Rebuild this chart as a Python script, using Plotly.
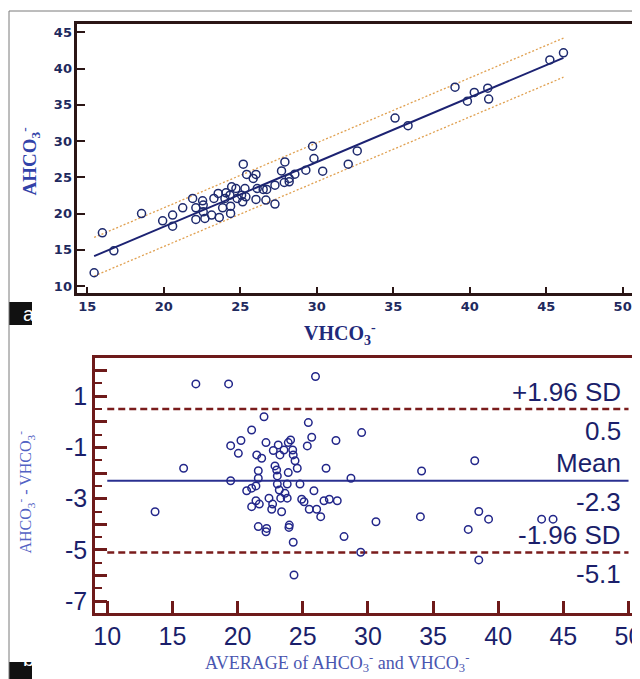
import plotly.graph_objects as go

# ---------------- Panel a: AHCO3 vs VHCO3 ----------------
top_v = [15.45, 15.99, 16.74, 18.55, 19.93, 20.58, 20.58, 21.24, 21.89, 22.10, 22.10, 22.54,
         22.58, 22.58, 22.69, 23.13, 23.28, 23.63, 23.56, 23.85, 24.00, 24.07, 24.37, 24.37,
         24.44, 24.33, 24.72, 24.80, 25.09, 25.16, 25.20, 25.31, 25.37, 25.42, 25.85, 26.03,
         26.03, 26.11, 26.50, 26.68, 26.73, 27.27, 27.27, 27.70, 27.92, 27.88, 28.20, 28.20,
         28.57, 29.29, 29.73, 29.82, 30.39, 32.06, 32.65, 35.12, 35.97, 39.04, 39.85, 40.30,
         41.18, 41.24, 45.24, 46.13]
top_a = [11.83, 17.34, 14.86, 20.00, 19.00, 19.78, 18.26, 20.79, 22.08, 20.79, 19.18, 21.75,
         21.16, 20.24, 19.32, 19.78, 22.08, 19.46, 22.77, 20.79, 22.08, 22.85, 21.02, 20.01,
         23.68, 22.53, 23.45, 22.08, 22.53, 21.61, 26.80, 23.45, 22.30, 25.39, 24.84, 25.39,
         21.94, 23.45, 23.32, 21.85, 23.32, 21.30, 23.91, 25.88, 27.12, 24.28, 24.84, 24.37,
         25.43, 25.98, 29.28, 27.59, 25.84, 26.80, 28.64, 33.17, 32.11, 37.43, 35.50, 36.70,
         37.29, 35.78, 41.19, 42.16]

fit_x = [15.45, 46.13]
fit_y = [14.13, 41.47]
band_upper_y = [16.70, 44.20]
band_lower_y = [11.38, 38.80]

top_x_ticks = [15, 20, 25, 30, 35, 40, 45, 50]
top_y_ticks = [10, 15, 20, 25, 30, 35, 40, 45]

# ---------------- Panel b: Bland-Altman ----------------
ba_avg = [16.80, 19.31, 25.98, 15.86, 13.67, 34.12, 34.03, 38.20, 37.70, 38.51, 39.26, 38.51,
          43.33, 44.21,
          22.03, 25.43, 21.08, 29.52, 19.47, 20.26, 20.06, 22.18, 23.12, 22.74, 23.25, 23.56,
          23.89, 24.07, 24.23, 24.27, 24.41, 24.58, 25.35, 25.69, 27.55, 21.47, 21.85, 22.87,
          23.00, 21.59, 21.59, 23.05, 23.89, 19.47, 26.79, 28.70, 21.41, 21.08, 20.70, 23.05,
          23.81, 24.79, 23.20, 23.64, 23.31, 23.81, 22.41, 22.69, 22.62, 23.38, 21.41, 21.67,
          21.08, 24.92, 25.10, 25.86, 26.63, 27.04, 27.65, 25.50, 26.07, 26.38, 30.62, 21.59,
          22.23, 22.18, 23.97, 23.94, 28.17, 24.27, 29.45, 24.33]
ba_diff = [1.48, 1.48, 1.77, -1.81, -3.51, -1.92, -3.70, -1.52, -4.20, -3.50, -3.80, -5.39,
           -3.80, -3.80,
           0.20, -0.03, -0.32, -0.42, -0.93, -0.73, -1.23, -0.81, -0.90, -1.12, -1.29, -1.10,
           -0.81, -0.71, -1.10, -1.29, -1.52, -1.81, -0.94, -0.60, -0.73, -1.29, -1.42, -1.72,
           -1.88, -1.91, -2.20, -2.11, -1.98, -2.30, -1.81, -2.20, -2.50, -2.59, -2.69, -2.43,
           -2.43, -2.43, -2.66, -2.79, -2.98, -2.98, -2.98, -3.21, -3.41, -3.51, -3.08, -3.21,
           -3.31, -3.02, -3.12, -2.69, -3.08, -3.02, -3.08, -3.41, -3.41, -3.70, -3.90, -4.09,
           -4.16, -4.29, -4.03, -4.12, -4.48, -4.70, -5.09, -5.98]

mean_diff = -2.3
upper_loa = 0.5
lower_loa = -5.1
line_x = [10, 50]

ba_x_ticks = [10, 15, 20, 25, 30, 35, 40, 45, 50]
ba_y_ticks = [-7, -5, -3, -1, 1]
ba_y_labels = ["-7", "-5", "-3", "-1", "1"]
ba_y_even_ticks = [-6, -4, -2, 0, 2]

# The page body has an 8px margin: size the figure to fit the window and
# express positions in window pixels.
OFF = 8
W, H = 640 - OFF, 679 - OFF
def px(x):
    return (x - OFF) / W
def py(y):
    return 1 - (y - OFF) / H

TOPFRAME = "#2b1616"
BOTFRAME = "#6e1a1a"

fig = go.Figure()

# panel a traces
fig.add_trace(go.Scatter(x=fit_x, y=band_upper_y, mode="lines",
                         line=dict(color="#e0a050", width=1.3, dash="2px,2px"),
                         xaxis="x", yaxis="y", showlegend=False, hoverinfo="skip"))
fig.add_trace(go.Scatter(x=fit_x, y=band_lower_y, mode="lines",
                         line=dict(color="#e0a050", width=1.3, dash="2px,2px"),
                         xaxis="x", yaxis="y", showlegend=False, hoverinfo="skip"))
fig.add_trace(go.Scatter(x=fit_x, y=fit_y, mode="lines",
                         line=dict(color="#1c2272", width=2),
                         xaxis="x", yaxis="y", showlegend=False))
fig.add_trace(go.Scatter(x=top_v, y=top_a, mode="markers",
                         marker=dict(symbol="circle-open", size=8, color="#1e2a6e",
                                     line=dict(width=1.5, color="#1e2a6e")),
                         xaxis="x", yaxis="y", showlegend=False))

# panel b traces
fig.add_trace(go.Scatter(x=line_x, y=[upper_loa, upper_loa], mode="lines",
                         line=dict(color="#7a1c1c", width=2.5, dash="7px,4px"),
                         xaxis="x2", yaxis="y2", showlegend=False))
fig.add_trace(go.Scatter(x=line_x, y=[lower_loa, lower_loa], mode="lines",
                         line=dict(color="#7a1c1c", width=2.5, dash="7px,4px"),
                         xaxis="x2", yaxis="y2", showlegend=False))
fig.add_trace(go.Scatter(x=line_x, y=[mean_diff, mean_diff], mode="lines",
                         line=dict(color="#2a3090", width=2),
                         xaxis="x2", yaxis="y2", showlegend=False))
fig.add_trace(go.Scatter(x=ba_avg, y=ba_diff, mode="markers",
                         marker=dict(symbol="circle-open", size=7.5, color="#23278a",
                                     line=dict(width=1.5, color="#23278a")),
                         xaxis="x2", yaxis="y2", showlegend=False))

top_tickfont = dict(family="DejaVu Sans", size=13, color="#1f2a5e", weight="bold")
bot_tickfont = dict(family="Liberation Sans", size=25, color="#1b1f6b")

fig.update_layout(
    width=W, height=H,
    margin=dict(l=0, r=0, t=0, b=0),
    paper_bgcolor="white", plot_bgcolor="white",
    xaxis=dict(domain=[px(77.3), px(631.7)], range=[14.35, 50.59], anchor="y",
               automargin=False, ticklabeloverflow="allow",
               tickvals=top_x_ticks, ticks="inside", ticklen=6, tickwidth=2,
               tickcolor=TOPFRAME, showline=True, linecolor=TOPFRAME, linewidth=2.5,
               mirror=True, showgrid=False, zeroline=False, tickfont=top_tickfont),
    yaxis=dict(domain=[py(292.7), py(24)], range=[9.08, 46.14], anchor="x",
               automargin=False,
               tickvals=top_y_ticks, ticks="inside", ticklen=8, tickwidth=2,
               tickcolor=TOPFRAME, showline=True, linecolor=TOPFRAME, linewidth=2.5,
               mirror=True, showgrid=False, zeroline=False, tickfont=top_tickfont),
    xaxis2=dict(domain=[px(95), px(632.7)], range=[9.06, 50.32], anchor="y2",
                automargin=False, ticklabeloverflow="allow",
                tickvals=ba_x_ticks, ticks="inside", ticklen=12, tickwidth=2.5,
                tickcolor=BOTFRAME, showline=True, linecolor=BOTFRAME, linewidth=2.5,
                mirror=True, showgrid=False, zeroline=False, tickfont=bot_tickfont),
    yaxis2=dict(domain=[py(612.7), py(358.3)], range=[-7.45, 2.48], anchor="x2",
                automargin=False,
                tickvals=ba_y_ticks, ticktext=ba_y_labels, ticks="inside", ticklen=12,
                tickwidth=2.5, tickcolor=BOTFRAME, showline=True, linecolor=BOTFRAME,
                linewidth=2.5, mirror=True, showgrid=False, zeroline=False,
                tickfont=bot_tickfont,
                minor=dict(dtick=0.5, tick0=0, ticks="inside", ticklen=7,
                           tickwidth=2, tickcolor=BOTFRAME, showgrid=False)),
    yaxis3=dict(overlaying="y2", anchor="x2", side="left", range=[-7.45, 2.48],
                automargin=False, tickvals=ba_y_even_ticks, ticks="inside", ticklen=12,
                tickwidth=2.5, tickcolor=BOTFRAME, showticklabels=False,
                showline=False, showgrid=False, zeroline=False),
)
# invisible trace to activate the overlay axis
fig.add_trace(go.Scatter(x=[], y=[], xaxis="x2", yaxis="y3", showlegend=False))

annotations = []
# axis titles (positions corrected for how rotated sub/sup text is placed)
annotations.append(dict(text="<b>AHCO<sub>3</sub><sup>-</sup></b>", x=px(15), y=py(126),
                        xref="paper", yref="paper", showarrow=False, textangle=-90,
                        font=dict(family="Liberation Serif", size=19, color="#3242a8")))
annotations.append(dict(text="<b>VHCO<sub>3</sub><sup>-</sup></b>", x=px(340), y=py(334),
                        xref="paper", yref="paper", showarrow=False,
                        font=dict(family="Liberation Serif", size=20, color="#1f2a7a")))
annotations.append(dict(text="AHCO<sub>3</sub><sup>-</sup> - VHCO<sub>3</sub><sup>-</sup>",
                        x=px(12), y=py(556), xref="paper", yref="paper", showarrow=False,
                        textangle=-90,
                        font=dict(family="Liberation Serif", size=16, color="#5262c4")))
annotations.append(dict(text="AVERAGE of AHCO<sub>3</sub><sup>-</sup> and VHCO<sub>3</sub><sup>-</sup>",
                        x=px(337), y=py(664), yshift=-13, xref="paper", yref="paper",
                        showarrow=False,
                        font=dict(family="Liberation Serif", size=18, color="#4a56b0")))

# limit-of-agreement labels
label_font = dict(family="Liberation Sans", size=26, color="#1b1f6b")
for val, name in [(upper_loa, "+1.96 SD"), (mean_diff, "Mean"), (lower_loa, "-1.96 SD")]:
    annotations.append(dict(text=name, x=0.982, y=val, xref="x2 domain", yref="y2",
                            xanchor="right", yanchor="middle", yshift=17.5,
                            showarrow=False, font=label_font))
    annotations.append(dict(text=f"{val:.1f}", x=0.982, y=val, xref="x2 domain", yref="y2",
                            xanchor="right", yanchor="middle", yshift=-21.5,
                            showarrow=False, font=label_font))

# panel letters
annotations.append(dict(text="a", x=px(20.5), y=py(313.5), xref="paper", yref="paper",
                        showarrow=False, font=dict(family="Liberation Sans", size=20, color="white")))
annotations.append(dict(text="b", x=px(20.5), y=py(672), xref="paper", yref="paper",
                        showarrow=False, font=dict(family="Liberation Sans", size=20, color="white")))
fig.update_layout(annotations=annotations)

shapes = [
    dict(type="line", xref="paper", yref="paper", x0=px(9), x1=px(645), y0=py(11), y1=py(11),
         line=dict(color="#7a7a7a", width=1)),
    dict(type="line", xref="paper", yref="paper", x0=px(9), x1=px(9), y0=py(11), y1=py(690),
         line=dict(color="#7a7a7a", width=1)),
    dict(type="rect", xref="paper", yref="paper", x0=px(9), x1=px(32), y0=py(325), y1=py(302),
         fillcolor="#111111", line=dict(width=0), layer="below"),
    dict(type="rect", xref="paper", yref="paper", x0=px(9), x1=px(32), y0=py(685), y1=py(662),
         fillcolor="#111111", line=dict(width=0), layer="below"),
]
fig.update_layout(shapes=shapes)

fig.write_html("out.html")
